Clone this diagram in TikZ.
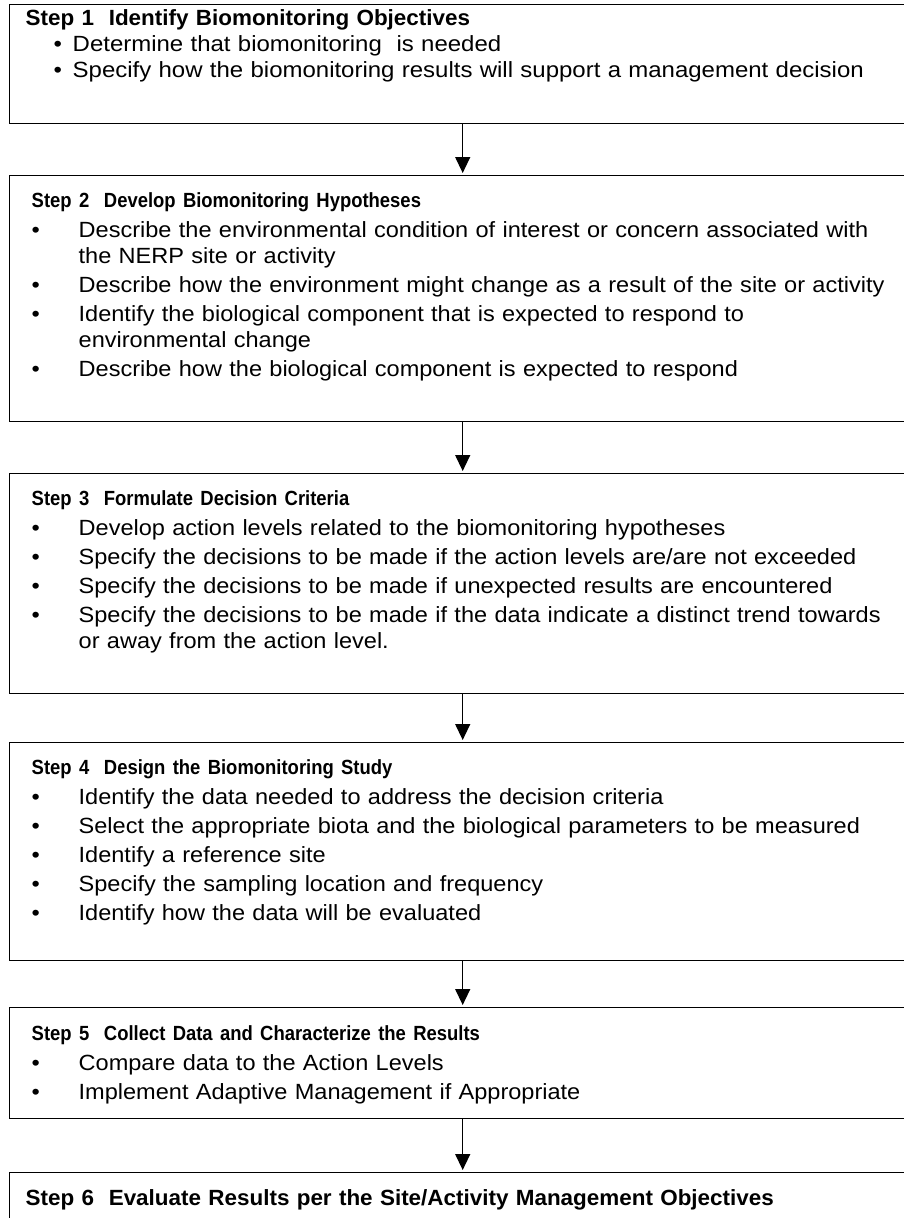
\documentclass[tikz,border=0pt]{standalone}
\usepackage{fontspec}
\setmainfont{Liberation Sans}
\newfontfamily\bodyface[FakeStretch=1.07]{Liberation Sans}
\newfontfamily\headface[FakeStretch=0.9]{Liberation Sans}
\newfontfamily\narrowbodyface[FakeStretch=1.09]{Liberation Sans}
\newfontfamily\narrowheadface[FakeStretch=1.02]{Liberation Sans}
\usetikzlibrary{arrows.meta,positioning}

\newcommand{\bodyfont}{\bodyface\fontsize{22}{26}\selectfont}
\newcommand{\headfont}{\headface\bfseries\fontsize{20.5}{26}\selectfont}
\newcommand{\narrowbody}{\narrowbodyface\fontsize{22}{26}\selectfont}
\newcommand{\narrowhead}{\narrowheadface\bfseries\fontsize{22}{26}\selectfont}
\newlength{\bulletind}
\newlength{\bulletoff}
\newlength{\itemgap}
\newlength{\titlegap}
\newcommand{\titlefont}{}
\newcommand{\steptitle}[1]{{\titlefont #1\par}\vspace{\titlegap}}
\newcommand{\stepitem}[1]{\par\vspace{\itemgap}\noindent\hangindent=\bulletind\hangafter=1%
  \makebox[\bulletind][l]{\hspace*{\bulletoff}\textbullet}#1\par}

\tikzset{
  stepbox/.style={draw, line width=1.4pt, anchor=north west, inner sep=0pt,
    inner xsep=22pt, text width=862pt, align=left, font=\bodyfont,
    execute at begin node={\hyphenpenalty=10000\let\titlefont\headfont
      \setlength{\bulletind}{47pt}\setlength{\bulletoff}{0pt}%
      \setlength{\itemgap}{3pt}\setlength{\titlegap}{1pt}}},
  narrowbox/.style={stepbox, inner xsep=16pt, text width=874pt, font=\narrowbody,
    execute at begin node={\let\titlefont\narrowhead
      \setlength{\bulletind}{47pt}\setlength{\bulletoff}{28pt}%
      \setlength{\itemgap}{0pt}\setlength{\titlegap}{0pt}}},
  flowarrow/.style={line width=1.3pt, -{Triangle[width=15pt,length=16pt]}, shorten >=2pt},
}

\begin{document}
\begin{tikzpicture}[x=1pt,y=-1pt]
  \useasboundingbox (0,0) rectangle (904,1218);
  \clip (0,0) rectangle (904,1218);

  % step 1
  \node[narrowbox, text height=21pt, text depth=98pt] (s1) at (9,4) {%
    \steptitle{Step 1\ \ Identify Biomonitoring Objectives}
    \stepitem{Determine that biomonitoring\ \ is needed}
    \stepitem{Specify how the biomonitoring results will support a management decision}};

  % step 2
  \node[stepbox, text height=32pt, text depth=214pt] (s2) at (9,175) {%
    \steptitle{Step 2\ \ Develop Biomonitoring Hypotheses}
    \stepitem{Describe the environmental condition of interest or concern associated with\newline
      the NERP site or activity}
    \stepitem{Describe how the environment might change as a result of the site or activity}
    \stepitem{Identify the biological component that is expected to respond to\newline
      environmental change}
    \stepitem{Describe how the biological component is expected to respond}};

  % step 3
  \node[stepbox, text height=32pt, text depth=188pt] (s3) at (9,473) {%
    \steptitle{Step 3\ \ Formulate Decision Criteria}
    \stepitem{Develop action levels related to the biomonitoring hypotheses}
    \stepitem{Specify the decisions to be made if the action levels are/are not exceeded}
    \stepitem{Specify the decisions to be made if unexpected results are encountered}
    \stepitem{Specify the decisions to be made if the data indicate a distinct trend towards\newline
      or away from the action level.}};

  % step 4
  \node[stepbox, text height=32pt, text depth=186pt] (s4) at (9,742) {%
    \steptitle{Step 4\ \ Design the Biomonitoring Study}
    \stepitem{Identify the data needed to address the decision criteria}
    \stepitem{Select the appropriate biota and the biological parameters to be measured}
    \stepitem{Identify a reference site}
    \stepitem{Specify the sampling location and frequency}
    \stepitem{Identify how the data will be evaluated}};

  % step 5
  \node[stepbox, text height=33pt, text depth=78pt] (s5) at (9,1007) {%
    \steptitle{Step 5\ \ Collect Data and Characterize the Results}
    \stepitem{Compare data to the Action Levels}
    \stepitem{Implement Adaptive Management if Appropriate}};

  % step 6
  \node[narrowbox, text height=33pt, text depth=60pt] (s6) at (9,1172) {%
    \steptitle{Step 6\ \ Evaluate Results per the Site/Activity Management Objectives}};

  \draw[flowarrow] (s1.south) -- (s2.north);
  \draw[flowarrow] (s2.south) -- (s3.north);
  \draw[flowarrow] (s3.south) -- (s4.north);
  \draw[flowarrow] (s4.south) -- (s5.north);
  \draw[flowarrow] (s5.south) -- (s6.north);
\end{tikzpicture}
\end{document}
